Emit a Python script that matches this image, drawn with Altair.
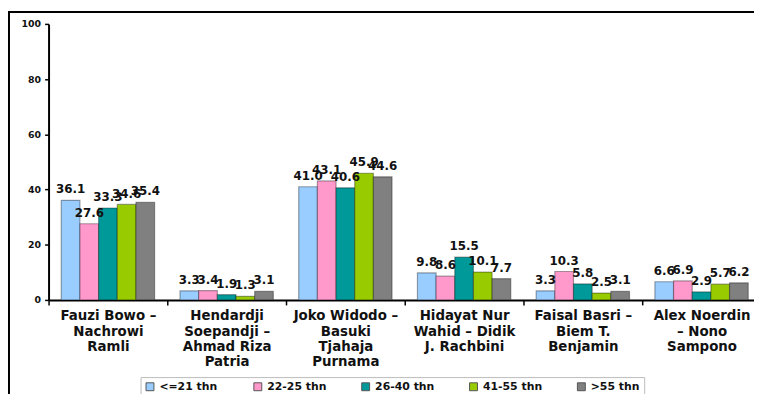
import altair as alt
import pandas as pd

pairs = [
    "Fauzi Bowo –|Nachrowi|Ramli",
    "Hendardji|Soepandji –|Ahmad Riza|Patria",
    "Joko Widodo –|Basuki|Tjahaja|Purnama",
    "Hidayat Nur|Wahid – Didik|J. Rachbini",
    "Faisal Basri –|Biem T.|Benjamin",
    "Alex Noerdin|– Nono|Sampono",
]
age_groups = ["<=21 thn", "22-25 thn", "26-40 thn", "41-55 thn", ">55 thn"]
v_le21 = [36.1, 3.3, 41.0, 9.8, 3.3, 6.6]
v_22_25 = [27.6, 3.4, 43.1, 8.6, 10.3, 6.9]
v_26_40 = [33.3, 1.9, 40.6, 15.5, 5.8, 2.9]
v_41_55 = [34.6, 1.3, 45.9, 10.1, 2.5, 5.7]
v_gt55 = [35.4, 3.1, 44.6, 7.7, 3.1, 6.2]
series = [v_le21, v_22_25, v_26_40, v_41_55, v_gt55]
colors = ["#99CCFF", "#FF99CC", "#009999", "#99CC00", "#808080"]

rows = []
for g, vals in zip(age_groups, series):
    for p, v in zip(pairs, vals):
        rows.append({"pair": p, "age": g, "value": v})
df = pd.DataFrame(rows)

FONT = "DejaVu Sans"

x = alt.X(
    "pair:N",
    sort=pairs,
    scale=alt.Scale(range=[0, 720], paddingInner=0, paddingOuter=0),
    axis=alt.Axis(
        title=None,
        labelExpr="isValid(datum.value) ? split(datum.value, '|') : ''",
        labelAngle=0,
        tickBand="extent",
        labelOverlap=False,
        labelBound=False,
        labelFont=FONT,
        labelFontWeight="bold",
        labelFontSize=13.5,
        labelLineHeight=15.5,
        labelColor="#111",
        labelPadding=4,
        labelLimit=300,
        domainColor="black",
        domainWidth=2,
        tickColor="black",
        tickWidth=1.5,
        tickSize=5,
    ),
)
y = alt.Y(
    "value:Q",
    scale=alt.Scale(domain=[0, 100], nice=False),
    axis=alt.Axis(
        title=None,
        values=[0, 20, 40, 60, 80, 100],
        grid=False,
        labelFont=FONT,
        labelFontWeight="bold",
        labelFontSize=9.5,
        labelColor="#111",
        labelPadding=4,
        domainColor="black",
        domainWidth=2,
        tickColor="black",
        tickWidth=1.5,
        tickSize=4,
    ),
)
xoff = alt.XOffset(
    "age:N", sort=age_groups, scale=alt.Scale(paddingInner=0, paddingOuter=0.68)
)
color = alt.Color(
    "age:N",
    sort=age_groups,
    scale=alt.Scale(domain=age_groups, range=colors),
    legend=alt.Legend(
        title=None,
        orient="none",
        legendX=93,
        legendY=357,
        direction="horizontal",
        columns=5,
        gridAlign="all",
        columnPadding=33,
        symbolType="square",
        symbolSize=64,
        symbolStrokeColor="#555",
        symbolStrokeWidth=1,
        labelFont=FONT,
        labelFontWeight="bold",
        labelFontSize=11,
        labelColor="#111",
        labelOffset=4,
        padding=4,
        strokeColor="#bbbbbb",
        fillColor="white",
    ),
)

bars = alt.Chart(df).mark_bar(
    stroke="black", strokeOpacity=0.35, strokeWidth=1.2
).encode(x=x, y=y, xOffset=xoff, color=color)

labels = alt.Chart(df).mark_text(
    baseline="bottom", align="center", dy=-4,
    font=FONT, fontWeight="bold", fontSize=12, color="#111"
).encode(
    x=x, y=y, xOffset=xoff, text=alt.Text("value:Q", format=".1f")
)

frame = alt.Chart(alt.Data(values=[{"a": 1}])).mark_rect(
    fill=None, fillOpacity=0, stroke="black", strokeWidth=2
).encode(
    x=alt.value(-40), x2=alt.value(800), y=alt.value(-12), y2=alt.value(500)
)

chart = alt.layer(bars, labels, frame).properties(
    width=713,
    height=279,
    autosize=alt.AutoSizeParams(type="none"),
    padding={"left": 41, "top": 14, "right": 0, "bottom": 93},
).configure_view(stroke=None)

chart.save("out.html", embed_options={"renderer": "svg", "actions": False})
